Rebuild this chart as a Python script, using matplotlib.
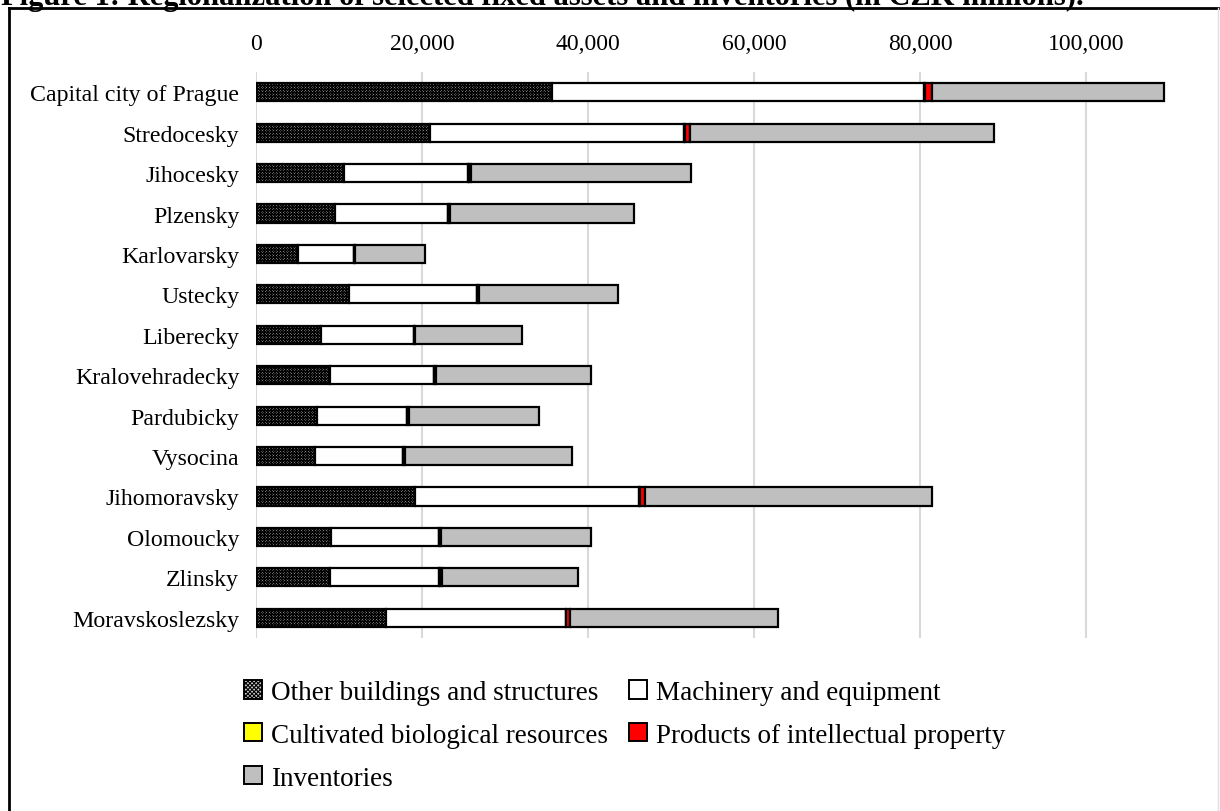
import matplotlib
matplotlib.use("Agg")
import matplotlib.pyplot as plt
from matplotlib.patches import Patch
from matplotlib.lines import Line2D
import numpy as np

plt.rcParams['font.family'] = ['Liberation Serif', 'DejaVu Serif']
plt.rcParams['hatch.linewidth'] = 0.8
plt.rcParams['hatch.color'] = 'black'

regions = ["Capital city of Prague", "Stredocesky", "Jihocesky", "Plzensky", "Karlovarsky",
           "Ustecky", "Liberecky", "Kralovehradecky", "Pardubicky", "Vysocina",
           "Jihomoravsky", "Olomoucky", "Zlinsky", "Moravskoslezsky"]

other_buildings = [35700, 21000, 10600, 9500, 5100, 11200, 7800, 8900, 7400, 7100, 19200, 9000, 8900, 15700]
machinery = [44800, 30600, 15000, 13600, 6700, 15400, 11200, 12500, 10800, 10600, 27000, 13000, 13200, 21600]
biological = [50, 50, 60, 50, 30, 40, 30, 50, 40, 60, 50, 50, 40, 40]
intellectual = [900, 600, 300, 250, 150, 250, 150, 250, 200, 200, 600, 250, 250, 450]
inventories = [27900, 36700, 26440, 22100, 8420, 16710, 12920, 18700, 15660, 20140, 34550, 18100, 16410, 25110]

labels = ["Other buildings and structures", "Machinery and equipment",
          "Cultivated biological resources", "Products of intellectual property", "Inventories"]
ticks = [0, 20000, 40000, 60000, 80000, 100000]
tick_labels = ["0", "20,000", "40,000", "60,000", "80,000", "100,000"]

W, H = 1220, 812
fig = plt.figure(figsize=(W / 100, H / 100), dpi=100)
ax = fig.add_axes([256 / W, 1 - 639 / H, (1169 - 256) / W, 566 / H])

y = np.arange(len(regions))
h = 0.45
lw = 1.6
left = np.zeros(len(regions))
series = [other_buildings, machinery, biological, intellectual, inventories]
faces = ['#c8c8c8', 'white', '#ffff00', '#ff0000', '#bfbfbf']
hatches = ['x' * 12, None, None, None, None]
for vals, fc, ht in zip(series, faces, hatches):
    vals = np.array(vals, dtype=float)
    ax.barh(y, vals, left=left, height=h, color=fc, edgecolor='black', linewidth=lw,
            hatch=ht, zorder=3)
    left += vals

ax.set_xlim(0, 110000)
ax.set_ylim(13.5, -0.5)
ax.set_yticks(y)
ax.set_yticklabels(regions, fontsize=17.2)
ax.set_xticks(ticks)
ax.set_xticklabels(tick_labels, fontsize=17)
ax.xaxis.tick_top()
ax.tick_params(axis='both', length=0)
ax.tick_params(axis='x', pad=13)
ax.tick_params(axis='y', pad=12)
for s in ax.spines.values():
    s.set_visible(False)
ax.grid(axis='x', color='#d9d9d9', linewidth=1.5, zorder=0)
ax.set_axisbelow(True)

handles = [Patch(facecolor=fc, edgecolor='black', hatch=ht, linewidth=1.4)
           for fc, ht in zip(faces, ['x' * 8, None, None, None, None])]
order = [0, 2, 4, 1, 3]
fig.legend([handles[i] for i in order], [labels[i] for i in order], ncol=2,
           loc='upper left', bbox_to_anchor=(244 / W, 1 - 681 / H), frameon=False,
           fontsize=19.5, handlelength=0.65, handleheight=0.65, handletextpad=0.33,
           columnspacing=0.8, labelspacing=0.66, borderaxespad=0, borderpad=0)

# frame and cut-off title
fig.add_artist(Line2D([9 / W, 9 / W], [0, 1 - 9 / H], color='black', lw=2, transform=fig.transFigure))
fig.add_artist(Line2D([9 / W, 1218 / W], [1 - 9 / H, 1 - 9 / H], color='black', lw=2, transform=fig.transFigure))
fig.add_artist(Line2D([1218 / W, 1218 / W], [0, 1 - 9 / H], color='#e0e0e0', lw=1, transform=fig.transFigure))
fig.text(1 / W, 1 - 5 / H, "Figure 1: Regionalization of selected fixed assets and inventories (in CZK millions).",
         fontsize=22, fontweight='bold', va='baseline', ha='left')

fig.savefig("out.png", dpi=100)
